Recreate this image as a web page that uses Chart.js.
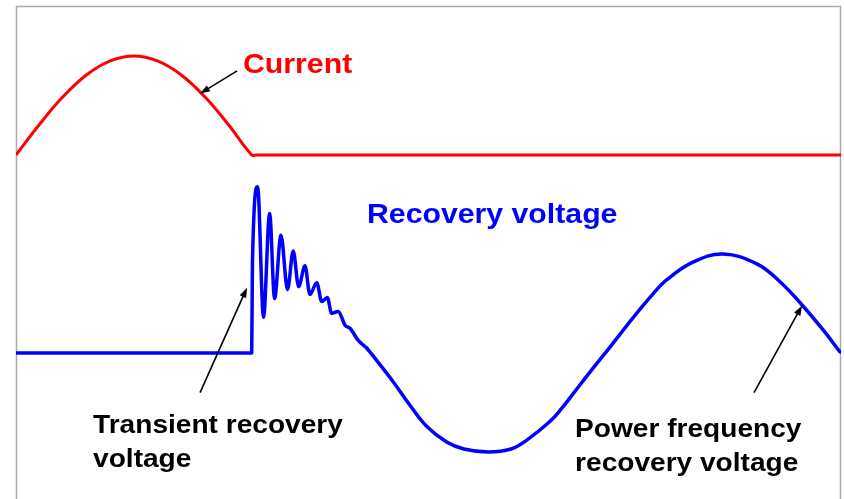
<!DOCTYPE html>
<html>
<head>
<meta charset="utf-8">
<script src="https://cdn.jsdelivr.net/npm/chart.js@4.4.1/dist/chart.umd.min.js"></script>
<style>
  html, body { margin: 0; padding: 0; background: #fff; }
  #wrap { width: 844px; height: 499px; }
</style>
</head>
<body>
<div id="wrap"><canvas id="trvChart" width="844" height="499"></canvas></div>
<script>
// Time axis in ms (50 Hz), values in per-unit of the peak

// Current: half cycle, interrupted at current zero (10 ms)
const currentTime = [0, 1, 2, 3, 4, 5, 6, 7, 8, 9, 10, 10.2, 35];
const currentValue = [0, 0.31, 0.59, 0.81, 0.95, 1.0, 0.95, 0.81, 0.59, 0.31, 0, 0, 0];

// Recovery voltage, part 1: zero while arcing, then the TRV oscillation
const trvTime = [
    0, 10.0, 10.03, 10.25, 10.50, 10.76, 10.97, 11.24, 11.52, 11.76, 11.99,
    12.26, 12.47, 12.76, 12.97, 13.21, 13.39, 13.67, 13.96, 14.17, 14.51, 14.88
];
const trvValue = [
    0, 0, 0.89, 1.68, 0.36, 1.41, 0.55, 1.19, 0.64, 1.03, 0.67,
    0.88, 0.59, 0.71, 0.52, 0.56, 0.40, 0.42, 0.28, 0.25, 0.13, 0.05
];

// Recovery voltage, part 2: power frequency recovery voltage
const pfTime = [
    14.88, 15.15, 16.0, 16.72, 17.42, 18.27, 19.0, 20.03, 21.0, 21.67, 22.66,
    23.15, 23.64, 24.49, 25.2, 26.19, 27.0, 27.61, 28.74, 30.0, 31.43, 32.41,
    33.33, 34.25, 34.96
];
const pfValue = [
    0.05, -0.03, -0.29, -0.53, -0.74, -0.90, -0.97, -1.0, -0.97, -0.88, -0.69,
    -0.56, -0.41, -0.15, 0.06, 0.36, 0.59, 0.74, 0.92, 1.0, 0.9, 0.72,
    0.49, 0.23, 0.01
];

// Labels and arrows, placed in data units (x: ms, y: axis given)
const labels = [
    { lines: ['Current'], t: 9.63, y: 0.83, axis: 'yCur', color: '#ff0000', size: 28, gap: 0 },
    { lines: ['Recovery voltage'], t: 14.89, y: 1.31, axis: 'yV', color: '#0000ff', size: 28, gap: 0 },
    { lines: ['Transient recovery', 'voltage'], t: 3.27, y: -0.81, axis: 'yV', color: '#000', size: 26, gap: 34 },
    { lines: ['Power frequency', 'recovery voltage'], t: 23.72, y: -0.85, axis: 'yV', color: '#000', size: 26, gap: 34 }
];
const arrows = [
    { axis: 'yCur', from: [9.38, 0.85], to: [7.81, 0.62] },
    { axis: 'yV', from: [7.81, -0.40], to: [9.80, 0.66] },
    { axis: 'yV', from: [31.31, -0.40], to: [33.35, 0.48] }
];

function toXY(xs, ys) {
    return xs.map((x, i) => ({ x: x, y: ys[i] }));
}

// Frame around the plot plus the text callouts
const calloutPlugin = {
    id: 'callouts',
    beforeDatasetsDraw(chart) {
        const ctx = chart.ctx;
        const a = chart.chartArea;
        ctx.save();
        ctx.strokeStyle = '#ababab';
        ctx.lineWidth = 1.5;
        ctx.beginPath();
        ctx.moveTo(a.left + 0.5, a.bottom + 5);
        ctx.lineTo(a.left + 0.5, a.top + 0.5);
        ctx.lineTo(a.right - 0.5, a.top + 0.5);
        ctx.lineTo(a.right - 0.5, a.bottom + 5);
        ctx.stroke();
        ctx.restore();
    },
    afterDatasetsDraw(chart) {
        const ctx = chart.ctx;
        const xs = chart.scales.x;
        ctx.save();
        labels.forEach(l => {
            const px = xs.getPixelForValue(l.t);
            const py = chart.scales[l.axis].getPixelForValue(l.y);
            ctx.fillStyle = l.color;
            ctx.font = 'bold ' + l.size + 'px "Liberation Sans", Arial, sans-serif';
            ctx.textBaseline = 'alphabetic';
            l.lines.forEach((line, i) => {
                ctx.save();
                ctx.translate(px, py + i * l.gap);
                ctx.scale(1.08, 1);
                ctx.fillText(line, 0, 0);
                ctx.restore();
            });
        });
        arrows.forEach(ar => {
            const ys = chart.scales[ar.axis];
            const x1 = xs.getPixelForValue(ar.from[0]), y1 = ys.getPixelForValue(ar.from[1]);
            const x2 = xs.getPixelForValue(ar.to[0]), y2 = ys.getPixelForValue(ar.to[1]);
            const ang = Math.atan2(y2 - y1, x2 - x1);
            const len = 10, half = 3.5;
            ctx.strokeStyle = '#000';
            ctx.fillStyle = '#000';
            ctx.lineWidth = 1.6;
            ctx.beginPath();
            ctx.moveTo(x1, y1);
            ctx.lineTo(x2 - Math.cos(ang) * len * 0.8, y2 - Math.sin(ang) * len * 0.8);
            ctx.stroke();
            ctx.beginPath();
            ctx.moveTo(x2, y2);
            ctx.lineTo(x2 - Math.cos(ang) * len - Math.sin(ang) * half, y2 - Math.sin(ang) * len + Math.cos(ang) * half);
            ctx.lineTo(x2 - Math.cos(ang) * len + Math.sin(ang) * half, y2 - Math.sin(ang) * len - Math.cos(ang) * half);
            ctx.closePath();
            ctx.fill();
        });
        ctx.restore();
    }
};

var ctxTrv = document.getElementById('trvChart').getContext('2d');
var trvChart = new Chart(ctxTrv, {
    type: 'line',
    data: {
        datasets: [{
            label: 'Current',
            data: toXY(currentTime, currentValue),
            yAxisID: 'yCur',
            borderColor: '#ff0000',
            borderWidth: 3,
            borderJoinStyle: 'round',
            pointRadius: 0,
            tension: 0.4
        }, {
            label: 'Transient recovery voltage',
            data: toXY(trvTime, trvValue),
            yAxisID: 'yV',
            borderColor: '#0000ff',
            borderWidth: 3.5,
            borderJoinStyle: 'round',
            borderCapStyle: 'round',
            pointRadius: 0,
            cubicInterpolationMode: 'monotone'
        }, {
            label: 'Power frequency recovery voltage',
            data: toXY(pfTime, pfValue),
            yAxisID: 'yV',
            borderColor: '#0000ff',
            borderWidth: 3.5,
            borderJoinStyle: 'round',
            borderCapStyle: 'round',
            pointRadius: 0,
            tension: 0.4
        }]
    },
    options: {
        responsive: false,
        animation: false,
        layout: { padding: { left: 16, top: 6, right: 3, bottom: 0 } },
        plugins: {
            legend: { display: false },
            tooltip: { enabled: false }
        },
        scales: {
            x: { type: 'linear', min: 0, max: 35, display: false },
            yCur: { type: 'linear', min: -3.475, max: 1.505, display: false },
            yV: { type: 'linear', min: -1.475, max: 3.505, display: false }
        }
    },
    plugins: [calloutPlugin]
});
</script>
</body>
</html>
